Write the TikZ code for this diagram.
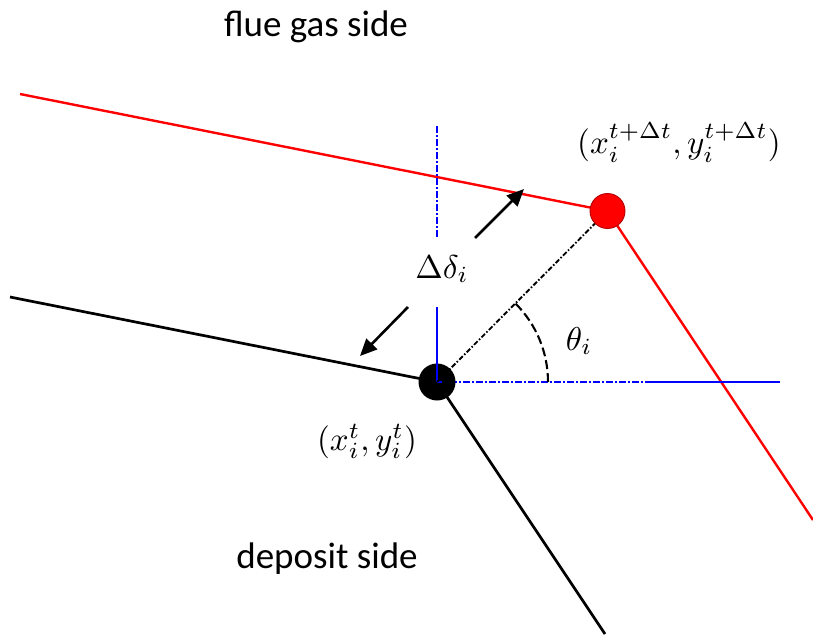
\documentclass[tikz,border=0pt]{standalone}
\usepackage{fontspec}
\setsansfont{Carlito}
\usetikzlibrary{arrows.meta}
\begin{document}
\begin{tikzpicture}[x=1pt,y=-1pt,
  redline/.style={draw=red,line width=2.4pt},
  blackline/.style={draw=black,line width=2.7pt},
  bluedd/.style={draw=blue,line width=2.6pt,dash pattern=on 7pt off 2pt on 2pt off 2pt},
  bluesolid/.style={draw=blue,line width=2.7pt},
  bigarrow/.style={draw=black,line width=2.6pt,-{Triangle[length=17pt,width=15pt]}},
  sidelabel/.style={font=\sffamily\fontsize{37}{44}\selectfont,anchor=base,inner sep=0pt},
  mathlabel/.style={scale=3.3,anchor=base,inner sep=0pt},
  dot/.style={circle,inner sep=0pt}]
\useasboundingbox (0,0) rectangle (813,634);
% coordinates
\coordinate (rs) at (20,94);
\coordinate (re) at (813,520);
\coordinate (bs) at (10,297);
\coordinate (be) at (605,634);
\coordinate (vt) at (437,126);
\coordinate (vtb) at (437,237);
\coordinate (vlt) at (437,307);
\coordinate (hm) at (649,382);
\coordinate (he) at (780,382);
\coordinate (a1s) at (475,238);
\coordinate (a1e) at (524,189);
\coordinate (a2s) at (408,307);
\coordinate (a2e) at (360,356);
% lines
\draw[redline] (rs) -- (607.5,211) -- (re);
\draw[blackline] (bs) -- (437,382) -- (be);
\draw[bluedd] (vt) -- (vtb);
\draw[bluedd] (437,382) -- (hm);
\draw[bluesolid] (hm) -- (he);
\draw[black,line width=1.9pt,dash pattern=on 5pt off 2pt on 1.5pt off 2pt] (437,382) -- (607.5,211);
\draw[black,line width=2.1pt,dash pattern=on 9pt off 4pt] (548,382) arc[start angle=0,end angle=-45,radius=111];
% dots
\node[dot,fill=red,draw=red!70!black,line width=0.9pt,minimum size=35pt] (q) at (607.5,211) {};
\node[dot,fill=black,minimum size=37pt] (p) at (437,382) {};
\draw[bluesolid,line width=2.3pt] (vlt) -- (p.center);
\draw[bluesolid,line width=2.3pt] (p.center) -- ++(5,0);
\draw[black,line width=1.9pt,dash pattern=on 5pt off 2pt on 1.5pt off 2pt] (p.center) -- ++(8,-8);
% arrows
\draw[bigarrow] (a1s) -- (a1e);
\draw[bigarrow] (a2s) -- (a2e);
% labels
\node[sidelabel] (fg) at (316,37) {flue gas side};
\node[sidelabel] (ds) at (327,568) {deposit side};
\node[mathlabel] (lq) at (679,153) {$(x_i^{t+\Delta t},y_i^{t+\Delta t})$};
\node[mathlabel] (lp) at (367,450) {$(x_i^{t},y_i^{t})$};
\node[mathlabel] (dd) at (442,278) {$\Delta\delta_i$};
\node[mathlabel] (th) at (579,350) {$\theta_i$};
\end{tikzpicture}
\end{document}
